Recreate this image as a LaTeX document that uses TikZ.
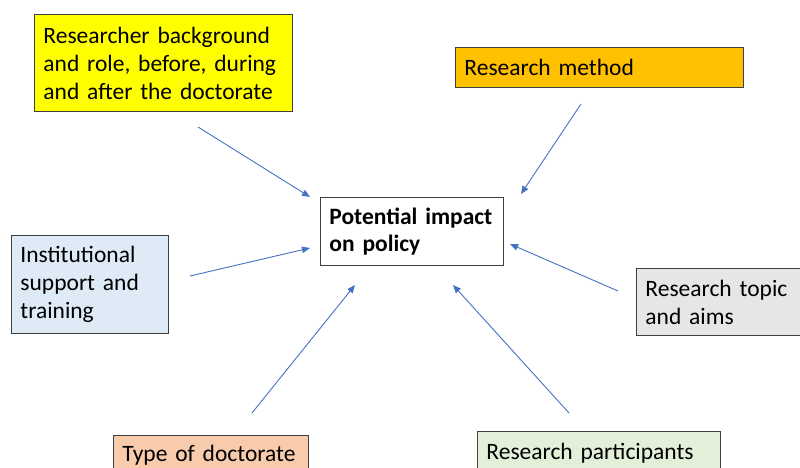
\documentclass[tikz,border=0pt]{standalone}
\usepackage{fontspec}
\setmainfont{Carlito}
\usetikzlibrary{arrows.meta}
\definecolor{cyellow}{HTML}{FFFF00}
\definecolor{corange}{HTML}{FFC000}
\definecolor{cblue}{HTML}{DEEBF7}
\definecolor{cgray}{HTML}{E7E6E6}
\definecolor{cpeach}{HTML}{F8CBAD}
\definecolor{cgreen}{HTML}{E2F0D9}
\definecolor{cedge}{HTML}{404040}
\definecolor{carrow}{HTML}{4472C4}
\tikzset{
  factor/.style={draw=cedge, line width=0.9pt, anchor=north west, align=left,
    inner xsep=9pt, inner ysep=0pt, font=\fontsize{23.5}{28}\selectfont},
  link/.style={draw=carrow, line width=0.9pt, -{Triangle[length=8pt,width=6.5pt]}}
}
\begin{document}
\begin{tikzpicture}[x=1pt,y=-1pt]
\useasboundingbox (0,0) rectangle (800,468);
\clip (0,0) rectangle (800,468);

% factor boxes
\node[factor, fill=cyellow, minimum width=258pt, minimum height=97pt, text width=240pt]
  (bg) at (34,14) {Researcher background\\and role, before, during\\and after the doctorate};
\node[factor, fill=corange, minimum width=288pt, minimum height=40pt, text width=270pt]
  (meth) at (455,47) {Research method};
\node[factor, fill=cblue, minimum width=157pt, minimum height=98pt, text width=139pt]
  (inst) at (11,235) {Institutional\\support and\\training};
\node[factor, fill=cgray, minimum width=180pt, minimum height=67pt, text width=162pt]
  (topic) at (636,268) {Research topic\\and aims};
\node[factor, fill=cpeach, minimum width=195pt, minimum height=40pt, text width=177pt]
  (type) at (113,435) {Type of doctorate};
\node[factor, fill=cgreen, minimum width=243pt, minimum height=44pt, text width=225pt]
  (part) at (477,431) {Research participants};

% central outcome
\node[factor, fill=white, minimum width=183pt, minimum height=68pt, text width=165pt,
  font=\fontsize{23.5}{27}\selectfont\bfseries]
  (impact) at (320,197) {Potential impact\\on policy};

% connector ends
\coordinate (bgS) at (198,127);   \coordinate (bgE) at (310,197);
\coordinate (methS) at (581,104); \coordinate (methE) at (521,194);
\coordinate (instS) at (190,276); \coordinate (instE) at (310,248);
\coordinate (topS) at (618,291);  \coordinate (topE) at (510,244);
\coordinate (typS) at (252,413);  \coordinate (typE) at (355,285);
\coordinate (parS) at (569,413);  \coordinate (parE) at (453,285);

\draw[link] (bgS) -- (bgE);
\draw[link] (methS) -- (methE);
\draw[link] (instS) -- (instE);
\draw[link] (topS) -- (topE);
\draw[link] (typS) -- (typE);
\draw[link] (parS) -- (parE);
\end{tikzpicture}
\end{document}
